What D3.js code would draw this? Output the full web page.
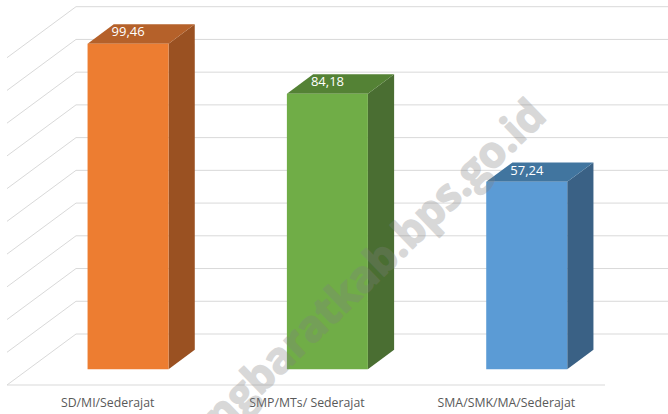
<!DOCTYPE html>
<html><head><meta charset="utf-8">
<script src="https://cdn.jsdelivr.net/npm/d3@7"></script>
<style>html,body{margin:0;padding:0;background:#fff;}svg{display:block;}</style>
</head><body>
<svg id="chart" width="668" height="414"></svg>
<script>
const categories = ["SD/MI/Sederajat", "SMP/MTs/ Sederajat", "SMA/SMK/MA/Sederajat"];
const values = [99.46, 84.18, 57.24];
const valueLabels = ["99,46", "84,18", "57,24"];
const tickValues = [0, 10, 20, 30, 40, 50, 60, 70, 80, 90, 100];
const frontColors = ["#ED7D31", "#70AD47", "#5B9BD5"];
const topColors = ["#B5612A", "#548235", "#41759F"];
const sideColors = ["#9A5122", "#4A6E32", "#3A6185"];

const svg = d3.select("#chart");

// 3D projection: depth vector for full floor depth
const DX = 69, DY = -51;
const x = d3.scaleBand().domain(categories).range([7, 605]);
const y = d3.scaleLinear().domain([0, 100]).range([385, 57.7]);
const d0 = 0.31, d1 = 0.69; // bar depth range (0 = front, 1 = back)
const barW = 81;

const P = (px, v, d) => [px + d * DX, y(v) + d * DY];

// gridlines: back wall + left side wall
const grid = svg.append("g").attr("stroke", "#D9D9D9").attr("stroke-width", 1).attr("fill", "none");
tickValues.forEach(t => {
  const back0 = P(7, t, 1);
  const front0 = P(7, t, 0);
  grid.append("line").attr("x1", back0[0]).attr("y1", back0[1]).attr("x2", 605 + DX).attr("y2", back0[1]);
  grid.append("line").attr("x1", back0[0]).attr("y1", back0[1]).attr("x2", front0[0]).attr("y2", front0[1]);
});
// floor front edge
grid.append("line").attr("x1", 7).attr("y1", y(0)).attr("x2", 605).attr("y2", y(0));

// bars
const bars = svg.append("g");
categories.forEach((c, i) => {
  const cx = x(c) + x.bandwidth() / 2;
  const xl = cx - barW / 2, xr = cx + barW / 2;
  const v = values[i];
  const fTL = P(xl, v, d0), fTR = P(xr, v, d0), fBR = P(xr, 0, d0), fBL = P(xl, 0, d0);
  const bTL = P(xl, v, d1), bTR = P(xr, v, d1), bBR = P(xr, 0, d1);
  const poly = pts => pts.map(p => p.join(",")).join(" ");
  bars.append("polygon").attr("points", poly([fTR, bTR, bBR, fBR])).attr("fill", sideColors[i]);
  bars.append("polygon").attr("points", poly([fTL, bTL, bTR, fTR])).attr("fill", topColors[i]);
  bars.append("polygon").attr("points", poly([fTL, fTR, fBR, fBL])).attr("fill", frontColors[i]);
  const mid = P(cx, v, (d0 + d1) / 2);
  bars.append("text").attr("x", mid[0] - 13).attr("y", mid[1] + 2.5)
    .attr("text-anchor", "middle").attr("fill", "#fff")
    .attr("font-family", "'Open Sans', sans-serif").attr("font-size", 13)
    .text(valueLabels[i]);
});

// category labels
svg.append("g").selectAll("text").data(categories).join("text")
  .attr("x", d => x(d) + x.bandwidth() / 2 + 1)
  .attr("y", 407)
  .attr("text-anchor", "middle")
  .attr("fill", "#595959")
  .attr("font-family", "'Open Sans', sans-serif")
  .attr("font-size", 12.3)
  .text(d => d);

// watermark
svg.append("g").attr("opacity", 0.3)
  .append("text")
  .attr("transform", "translate(548,118) rotate(-44)")
  .attr("text-anchor", "end")
  .attr("fill", "#808080")
  .attr("stroke", "#808080")
  .attr("stroke-width", 1.6)
  .attr("stroke-linejoin", "round")
  .attr("font-family", "'Open Sans', sans-serif")
  .attr("font-weight", 700)
  .attr("font-size", 43)
  .text("lampungbaratkab.bps.go.id");
</script>
</body></html>
